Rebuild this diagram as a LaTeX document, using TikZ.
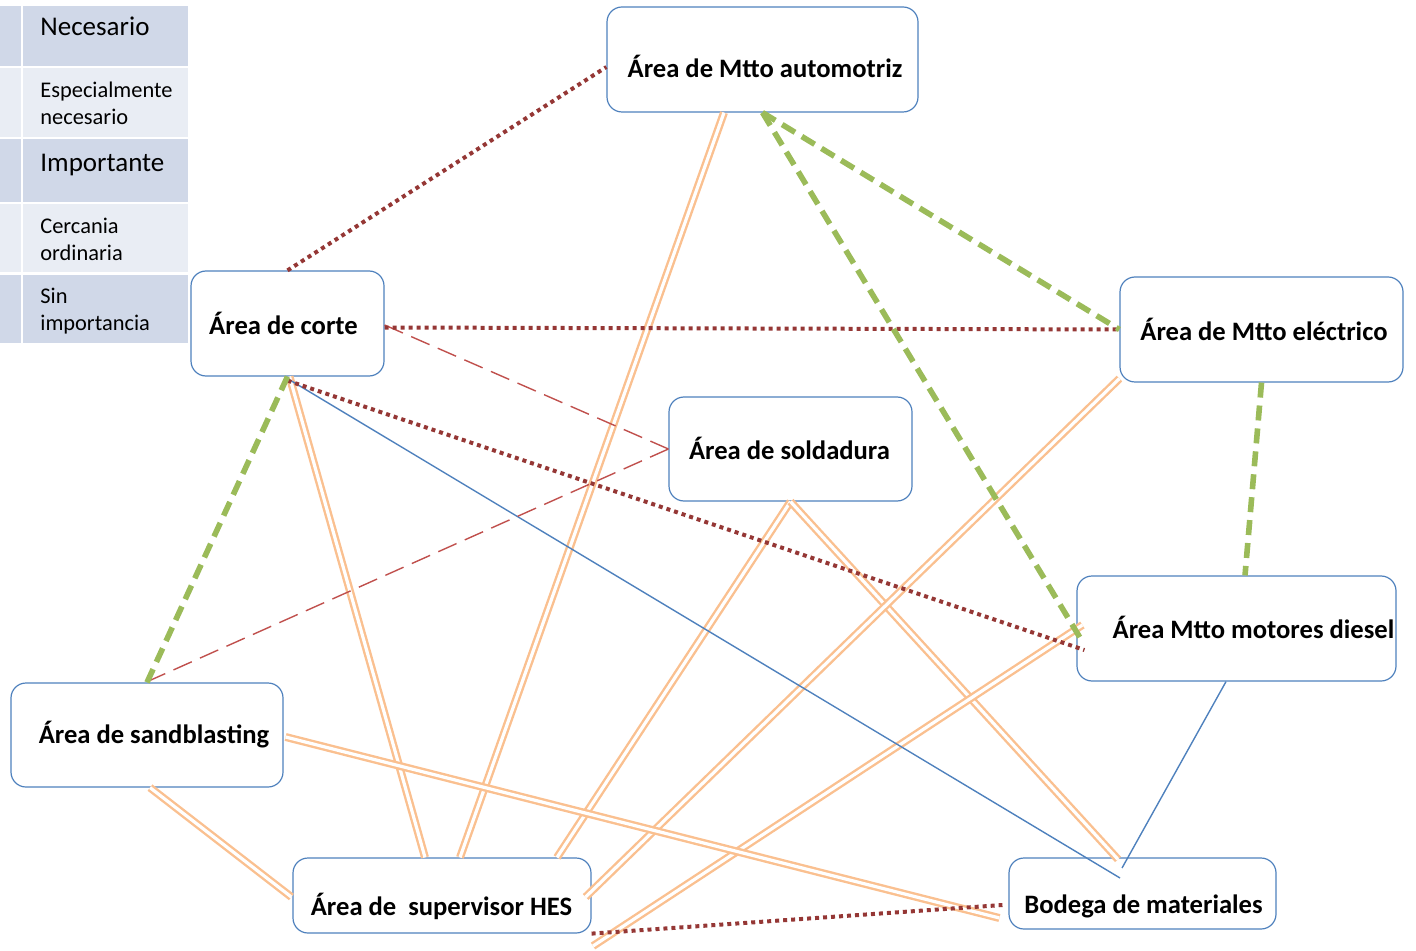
\documentclass[tikz,border=0pt]{standalone}
\usepackage{fontspec}
\setmainfont{Carlito}
\definecolor{boxline}{HTML}{4F81BD}
\definecolor{legdark}{HTML}{D0D8E8}
\definecolor{leglight}{HTML}{E9EDF4}
\definecolor{dotred}{HTML}{953735}
\definecolor{dashred}{HTML}{C0504D}
\definecolor{dashgreen}{HTML}{9BBB59}
\definecolor{pairorange}{HTML}{FAC090}
\begin{document}
\begin{tikzpicture}[x=0.5pt,y=-0.5pt,
  box/.style={draw=boxline, line width=0.6pt, rounded corners=7.5pt, inner sep=0pt},
  boxtext/.style={font=\fontsize{13.3}{16}\selectfont\bfseries, inner sep=0pt},
  legbig/.style={font=\fontsize{13.5}{16}\selectfont, anchor=north west, inner sep=0pt},
  legsmall/.style={font=\fontsize{11.2}{13.5}\selectfont, align=left, anchor=north west, inner sep=0pt},
  reddots/.style={dotred, line width=2pt, dash pattern=on 2pt off 2pt},
  greendash/.style={dashgreen, line width=2.8pt, dash pattern=on 7.5pt off 4pt},
  reddash/.style={dashred, line width=0.7pt, dash pattern=on 10pt off 4.5pt},
  blueline/.style={boxline, line width=0.7pt},
  orangepair/.style={draw=pairorange, double=white, line width=1.2pt, double distance=1.6pt}]
\useasboundingbox (0,0) rectangle (1416,951);
% legend
\foreach \ya/\yb/\col in {6/66/legdark, 68/137/leglight, 139/202/legdark, 204/272/leglight, 275/343/legdark} {
  \fill[\col] (0,\ya) rectangle (21,\yb);
  \fill[\col] (23,\ya) rectangle (188,\yb);
}
\node[legbig] (nec) at (40,17) {Necesario};
\node[legsmall] (espnec) at (40,82) {Especialmente\\necesario};
\node[legbig] (imp) at (40,154) {Importante};
\node[legsmall] (cerc) at (40,218) {Cercania\\ordinaria};
\node[legsmall] (sinimp) at (40,288) {Sin\\importancia};
% areas
\node[box, minimum width=155.5pt, minimum height=52.5pt] (auto) at (762.5,59.5) {};
\node[box, minimum width=96.5pt, minimum height=52.5pt] (corte) at (287.5,323.5) {};
\node[box, minimum width=141.5pt, minimum height=52.5pt] (elec) at (1261.5,329.5) {};
\node[box, minimum width=121.5pt, minimum height=52pt] (sold) at (790.5,449) {};
\node[box, minimum width=159.5pt, minimum height=52.5pt] (diesel) at (1236.5,628.5) {};
\node[box, minimum width=136pt, minimum height=52pt] (sand) at (147,735) {};
\node[box, minimum width=149pt, minimum height=37.5pt] (hes) at (442,895.5) {};
\node[box, minimum width=133.5pt, minimum height=35.5pt] (bodega) at (1142.5,893.5) {};
\node[boxtext] (autotext) at (765,66) {Área de Mtto automotriz};
\node[boxtext] (cortetext) at (283.5,323) {Área de corte};
\node[boxtext] (electext) at (1264,329) {Área de Mtto eléctrico};
\node[boxtext] (soldtext) at (789.5,448) {Área de soldadura};
\node[boxtext] (dieseltext) at (1253.5,627) {Área Mtto motores diesel};
\node[boxtext] (sandtext) at (154,735) {Área de sandblasting};
\node[boxtext] (hestext) at (441.5,906) {Área de\ \ supervisor HES};
\node[boxtext] (bodegatext) at (1143.5,906) {Bodega de materiales};
\coordinate (hesend) at (593,946);
% double lines
\draw[orangepair] ([xshift=-19.25pt]auto.south) -- ([xshift=9pt]hes.north);
\draw[orangepair] ([xshift=1pt]corte.south) -- ([xshift=-8.5pt]hes.north);
\draw[orangepair] (sold.south) -- ([xshift=57.5pt]hes.north);
\draw[orangepair] (sold.south) -- ([xshift=-12.25pt,yshift=-1pt]bodega.north);
\draw[orangepair] ([yshift=2pt]elec.south west) -- ([xshift=-3pt,yshift=-0.75pt]hes.east);
\draw[orangepair] ([xshift=3pt,yshift=1.75pt]diesel.west) -- (hesend);
\draw[orangepair] ([xshift=1pt,yshift=-1pt]sand.east) -- ([xshift=-4.5pt,yshift=-12.25pt]bodega.west);
\draw[orangepair] ([xshift=1.5pt]sand.south) -- ([xshift=-0.5pt,yshift=-0.75pt]hes.west);
% thin lines
\draw[blueline] ([yshift=-1pt]corte.south) -- ([xshift=-11.25pt,yshift=7.75pt]bodega.center);
\draw[blueline] ([xshift=-5.25pt]diesel.south) -- ([xshift=-10.25pt,yshift=12.75pt]bodega.center);
\draw[reddash] ([yshift=-0.75pt]corte.east) -- (sold.west);
\draw[reddash] (sold.west) -- ([xshift=1.5pt,yshift=1pt]sand.north);
% dotted lines
\draw[reddots] (corte.north) -- ([yshift=-3.75pt]auto.west);
\draw[reddots] ([yshift=-2pt]corte.east) -- (elec.west);
\draw[reddots] ([yshift=-2pt]corte.south) -- ([xshift=4pt,yshift=-10.75pt]diesel.west);
\draw[reddots] (hes.south east) -- ([xshift=-3pt,yshift=-5.75pt]bodega.west);
% thick dashed lines
\draw[greendash] (auto.south) -- (elec.west);
\draw[greendash] (auto.south) -- ([xshift=2.5pt,yshift=-5.75pt]diesel.west);
\draw[greendash] (elec.south) -- ([xshift=4.25pt]diesel.north);
\draw[greendash] (corte.south) -- (sand.north);
\end{tikzpicture}
\end{document}
